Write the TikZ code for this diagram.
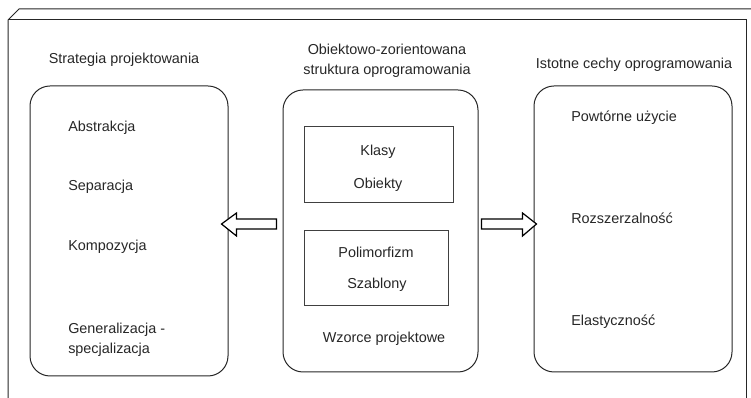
\documentclass[tikz,border=0pt]{standalone}
\usepackage{fontspec}
\setmainfont{Liberation Sans}
\usepackage{tikz}
\usetikzlibrary{calc}

\tikzset{
  roundbox/.style={draw=black!85, line width=0.75pt, rounded corners=15pt, inner sep=0pt},
  innerbox/.style={draw=black!75, line width=0.75pt, inner sep=0pt},
  label/.style={text=black!85, inner sep=0pt},
  blockarrow/.style={draw=black, line width=0.9pt, fill=white, line join=miter}
}

\begin{document}
\begin{tikzpicture}[x=0.75pt,y=-0.75pt,font=\fontsize{10.8}{15}\selectfont]
\useasboundingbox (0,0) rectangle (751,398);

% frame
\draw[black!85, line width=0.75pt] (8,398) -- (8,20) -- (19,9) -- (751,9);
\draw[black!85, line width=0.75pt] (8,20) -- (746,20) -- (746,398);

% three columns
\node[roundbox, minimum width=148.5pt, minimum height=217.5pt] (strat) at (129,231) {};
\node[roundbox, minimum width=146.25pt, minimum height=211.5pt] (mid) at (380.5,231) {};
\node[roundbox, minimum width=148.5pt, minimum height=214.5pt] (feat) at (633,229) {};

\node[innerbox, minimum width=111.75pt, minimum height=57pt] (klasybox) at (378.5,165) {};
\node[innerbox, minimum width=108pt, minimum height=56.25pt] (polibox) at (376,268.5) {};

% titles
\node[label] (strattitle) at (124,60) {Strategia projektowania};
\node[label, align=center] (midtitle) at (387,61) {Obiektowo-zorientowana\\struktura oprogramowania};
\node[label] (feattitle) at (634,65) {Istotne cechy oprogramowania};

% left items
\node[label, anchor=west] (abstr) at (68,128) {Abstrakcja};
\node[label, anchor=west] (separ) at (68,187) {Separacja};
\node[label, anchor=west] (kompo) at (68,247) {Kompozycja};
\node[label, anchor=west, align=left] (gener) at (68,340) {Generalizacja -\\specjalizacja};

% middle items
\node[label] (klasy) at (378,152) {Klasy};
\node[label] (obiekty) at (378,185) {Obiekty};
\node[label] (polim) at (376,252) {Polimorfizm};
\node[label] (szabl) at (377,285) {Szablony};
\node[label] (wzorce) at (384,339) {Wzorce projektowe};

% right items
\node[label, anchor=west] (powt) at (571,118) {Powtórne użycie};
\node[label, anchor=west] (rozsz) at (571,218) {Rozszerzalność};
\node[label, anchor=west] (elast) at (571,322) {Elastyczność};

% block arrows
\draw[blockarrow] ($(mid.west)+(-6,-12)$) -- ($(mid.west)+(-46,-12)$) -- ($(mid.west)+(-46,-18)$)
  -- ($(strat.east)+(-7,-7)$) -- ($(mid.west)+(-46,5)$) -- ($(mid.west)+(-46,-2)$) -- ($(mid.west)+(-6,-2)$) -- cycle;
\draw[blockarrow] ($(mid.east)+(3,-12)$) -- ($(mid.east)+(44,-12)$) -- ($(mid.east)+(44,-18)$)
  -- ($(feat.west)+(3,-5)$) -- ($(mid.east)+(44,5)$) -- ($(mid.east)+(44,-2)$) -- ($(mid.east)+(3,-2)$) -- cycle;
\end{tikzpicture}
\end{document}
